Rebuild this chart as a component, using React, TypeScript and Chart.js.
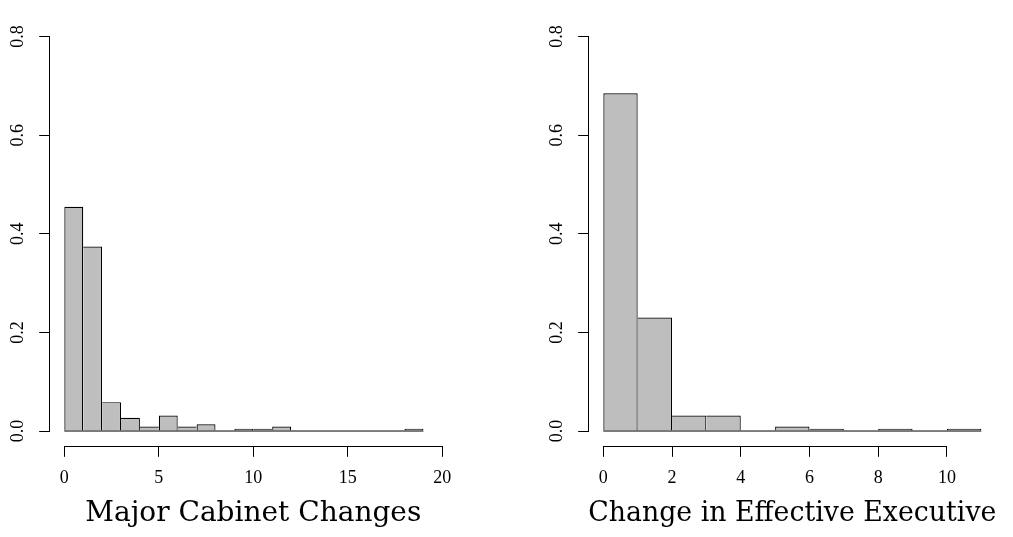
import React, { useEffect, useRef } from "react";
import { Chart, registerables } from "chart.js";

Chart.register(...registerables);

// ---- Data (density histograms, bin width 1) ----
const cabinetBinStarts = [0, 1, 2, 3, 4, 5, 6, 7, 8, 9, 10, 11, 12, 13, 14, 15, 16, 17, 18];
const cabinetDensity = [
  0.455, 0.374, 0.0586, 0.027, 0.009, 0.0315, 0.009, 0.0135, 0, 0.0045, 0.0045, 0.009, 0, 0, 0, 0, 0, 0, 0.0045,
];
const cabinetXTicks = [0, 5, 10, 15, 20];
const cabinetXLim = [0, 20];
const cabinetTitle = "Major Cabinet Changes";

const executiveBinStarts = [0, 1, 2, 3, 4, 5, 6, 7, 8, 9, 10];
const executiveDensity = [0.685, 0.23, 0.0315, 0.0315, 0, 0.009, 0.0045, 0, 0.0045, 0, 0.0045];
const executiveXTicks = [0, 2, 4, 6, 8, 10];
const executiveXLim = [0, 11];
const executiveTitle = "Change in Effective Executive";

const densityTicks = [0, 0.2, 0.4, 0.6, 0.8];
const densityLim = [0, 0.8];

// ---- Styling ----
const TICK_FONT = { family: "'Liberation Serif', serif", size: 18 };
const TITLE_FONT = { family: "'DejaVu Serif', serif", size: 28 };

const align = (p: number) => Math.round(p - 0.5) + 0.5;

// R-style axis lines spanning only from the first to the last tick
const rAxisPlugin = {
  id: "rAxisLines",
  afterDraw(chart: any) {
    const ctx = chart.ctx;
    const xs = chart.scales.x;
    const ys = chart.scales.y;
    ctx.save();
    ctx.strokeStyle = "#000";
    ctx.lineWidth = 1;
    const xv = xs.ticks.map((t: any) => t.value);
    const x0 = align(xs.getPixelForValue(Math.min(...xv)));
    const x1 = align(xs.getPixelForValue(Math.max(...xv)));
    const xy = align(xs.top);
    ctx.beginPath();
    ctx.moveTo(x0 - 0.5, xy);
    ctx.lineTo(x1 + 0.5, xy);
    ctx.stroke();
    const yv = ys.ticks.map((t: any) => t.value);
    const y0 = align(ys.getPixelForValue(Math.min(...yv)));
    const y1 = align(ys.getPixelForValue(Math.max(...yv)));
    const yx = align(ys.right);
    ctx.beginPath();
    ctx.moveTo(yx, y0 + 0.5);
    ctx.lineTo(yx, y1 - 0.5);
    ctx.stroke();
    ctx.restore();
  },
};

const edgeWidths = (vals: number[]) => (ctx: any) => {
  const i = ctx.dataIndex;
  if (i === undefined) return 0;
  const v = vals[i];
  if (!(v > 0)) return 0;
  const prev = i > 0 ? vals[i - 1] : 0;
  const next = i < vals.length - 1 ? vals[i + 1] : 0;
  return { top: 1.2, bottom: 0, left: prev >= v ? 0 : 1.2, right: next > v ? 0 : 1.2 };
};

type HistProps = {
  starts: number[];
  density: number[];
  xTicks: number[];
  xLim: number[];
  title: string;
  left: number;
  width: number;
};

function Histogram({ starts, density, xTicks, xLim, title, left, width }: HistProps) {
  const ref = useRef<HTMLCanvasElement>(null);
  const height = 537;
  const yAxisWidth = 49.2;
  const xAxisHeight = 90.2;
  const topPad = 7;
  const plotWidth = 408.2;

  useEffect(() => {
    const ext = (xLim[1] - xLim[0]) * 0.04;
    const yext = (densityLim[1] - densityLim[0]) * 0.04;
    const chart = new Chart(ref.current as HTMLCanvasElement, {
      type: "bar",
      data: {
        datasets: [
          {
            type: "bar",
            data: starts.map((s, i) => ({ x: s + 0.5, y: density[i] })),
            backgroundColor: "#BEBEBE",
            borderColor: "#000000",
            borderWidth: edgeWidths(density) as any,
            borderSkipped: false,
            barPercentage: 1,
            categoryPercentage: 1,
            inflateAmount: 0,
            order: 2,
          } as any,
          {
            type: "line",
            data: [
              { x: starts[0], y: 0 },
              { x: starts[starts.length - 1] + 1, y: 0 },
            ],
            borderColor: "#000000",
            borderWidth: 1,
            pointRadius: 0,
            order: 1,
          } as any,
        ],
      },
      options: {
        responsive: false,
        animation: false,
        events: [],
        layout: {
          autoPadding: false,
          padding: { left: 0, top: topPad, right: width - yAxisWidth - plotWidth, bottom: 0 },
        } as any,
        plugins: {
          legend: { display: false },
          tooltip: { enabled: false },
        },
        scales: {
          x: {
            type: "linear",
            bounds: "data",
            offset: false,
            min: xLim[0] - ext,
            max: xLim[1] + ext,
            afterBuildTicks: (s: any) => {
              s.ticks = xTicks.map((v) => ({ value: v }));
            },
            afterFit: (s: any) => {
              s.height = xAxisHeight;
            },
            grid: {
              display: true,
              offset: false,
              drawOnChartArea: false,
              drawTicks: true,
              tickLength: 10,
              color: "#000000",
              lineWidth: 1,
            },
            border: { display: false },
            ticks: {
              autoSkip: false,
              minRotation: 0,
              maxRotation: 0,
              padding: 11,
              color: "#000000",
              font: TICK_FONT,
              callback: (v: any) => String(v),
            },
            title: {
              display: true,
              text: title,
              color: "#000000",
              font: TITLE_FONT,
              padding: { top: 0, bottom: 6.6 },
            },
          } as any,
          y: {
            type: "linear",
            bounds: "data",
            offset: false,
            min: densityLim[0] - yext,
            max: densityLim[1] + yext,
            afterBuildTicks: (s: any) => {
              s.ticks = densityTicks.map((v) => ({ value: v }));
            },
            afterFit: (s: any) => {
              s.width = yAxisWidth;
            },
            grid: {
              display: true,
              offset: false,
              drawOnChartArea: false,
              drawTicks: true,
              tickLength: 10,
              color: "#000000",
              lineWidth: 1,
            },
            border: { display: false },
            ticks: {
              autoSkip: false,
              minRotation: 90,
              maxRotation: 90,
              crossAlign: "center",
              padding: 10,
              color: "#000000",
              font: TICK_FONT,
              callback: (v: any) => Number(v).toFixed(1),
            },
          } as any,
        },
      },
      plugins: [rAxisPlugin],
    });
    return () => chart.destroy();
  }, []);

  return (
    <canvas
      ref={ref}
      width={width}
      height={height}
      style={{ position: "absolute", left, top: 0, width, height }}
    />
  );
}

export default function App() {
  return (
    <div
      style={{
        position: "absolute",
        left: 0,
        top: 0,
        width: 1013,
        height: 537,
        background: "#ffffff",
        overflow: "hidden",
      }}
    >
      <Histogram
        starts={cabinetBinStarts}
        density={cabinetDensity}
        xTicks={cabinetXTicks}
        xLim={cabinetXLim}
        title={cabinetTitle}
        left={0}
        width={480}
      />
      <Histogram
        starts={executiveBinStarts}
        density={executiveDensity}
        xTicks={executiveXTicks}
        xLim={executiveXLim}
        title={executiveTitle}
        left={539}
        width={474}
      />
    </div>
  );
}
